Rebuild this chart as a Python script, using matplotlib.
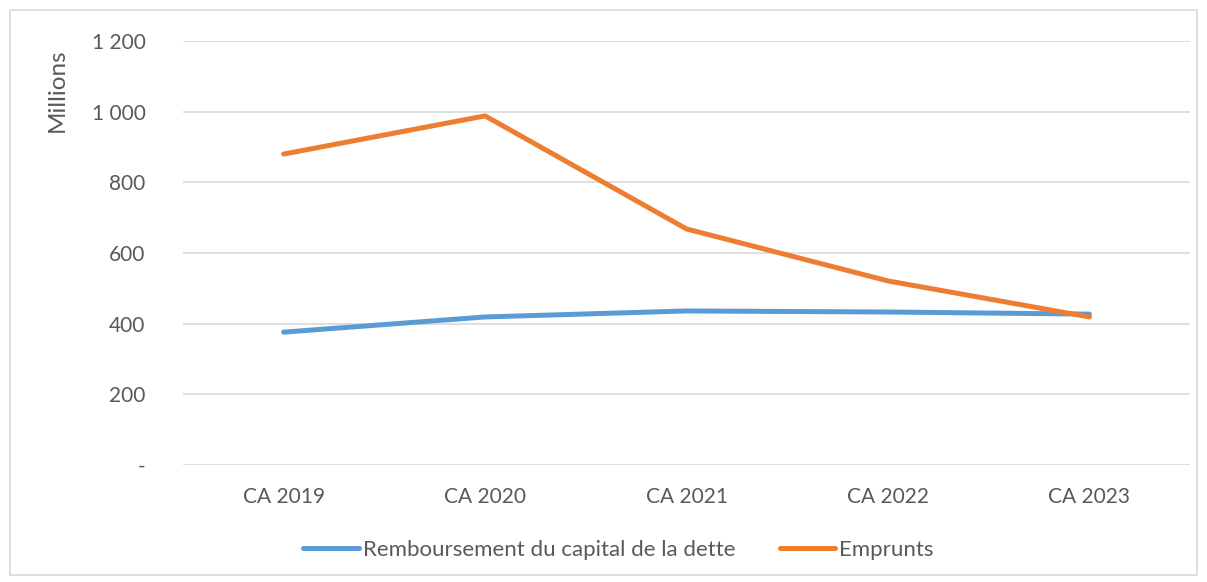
import matplotlib.pyplot as plt
from matplotlib.patches import Rectangle

categories = ["CA 2019", "CA 2020", "CA 2021", "CA 2022", "CA 2023"]
remboursement = [376, 419, 436, 433, 427]
emprunts = [880, 988, 668, 521, 419]
y_ticks = [0, 200, 400, 600, 800, 1000, 1200]
y_labels = ["-", "200", "400", "600", "800", "1 000", "1 200"]

plt.rcParams['font.family'] = ['Lato', 'DejaVu Sans']
text_color = "#595959"

fig = plt.figure(figsize=(12.07, 5.82), dpi=100)
fig.patches.append(Rectangle((0.008, 0.012), 0.984, 0.97, transform=fig.transFigure,
                             fill=False, edgecolor="#D9D9D9", linewidth=1.2))
ax = fig.add_axes([0.1516, 0.201, 0.8344, 0.7286])

x = list(range(len(categories)))
ax.plot(x, remboursement, color="#5B9BD5", linewidth=3.6, solid_capstyle="round",
        label="Remboursement du capital de la dette")
ax.plot(x, emprunts, color="#ED7D31", linewidth=3.6, solid_capstyle="round",
        label="Emprunts")

ax.set_xlim(-0.5, len(categories) - 0.5)
ax.set_ylim(0, 1200)
ax.set_xticks(x)
ax.set_xticklabels(categories)
ax.set_yticks(y_ticks)
ax.set_yticklabels(y_labels)
ax.tick_params(axis="both", length=0, labelsize=15, colors=text_color)
ax.tick_params(axis="x", pad=16)
ax.tick_params(axis="y", pad=27)

ax.grid(axis="y", color="#D9D9D9", linewidth=1.2)
ax.set_axisbelow(True)
for s in ax.spines.values():
    s.set_visible(False)

ax.set_ylabel("Millions", fontsize=17.5, color=text_color)
ax.yaxis.set_label_coords(-0.114, 0.884)

ax.legend(loc="center", bbox_to_anchor=(0.4325, -0.2005), ncol=2, frameon=False,
          fontsize=16, labelcolor=text_color, handlelength=2.5, handletextpad=0.18,
          columnspacing=2.0)

fig.savefig("out.png", dpi=100)
